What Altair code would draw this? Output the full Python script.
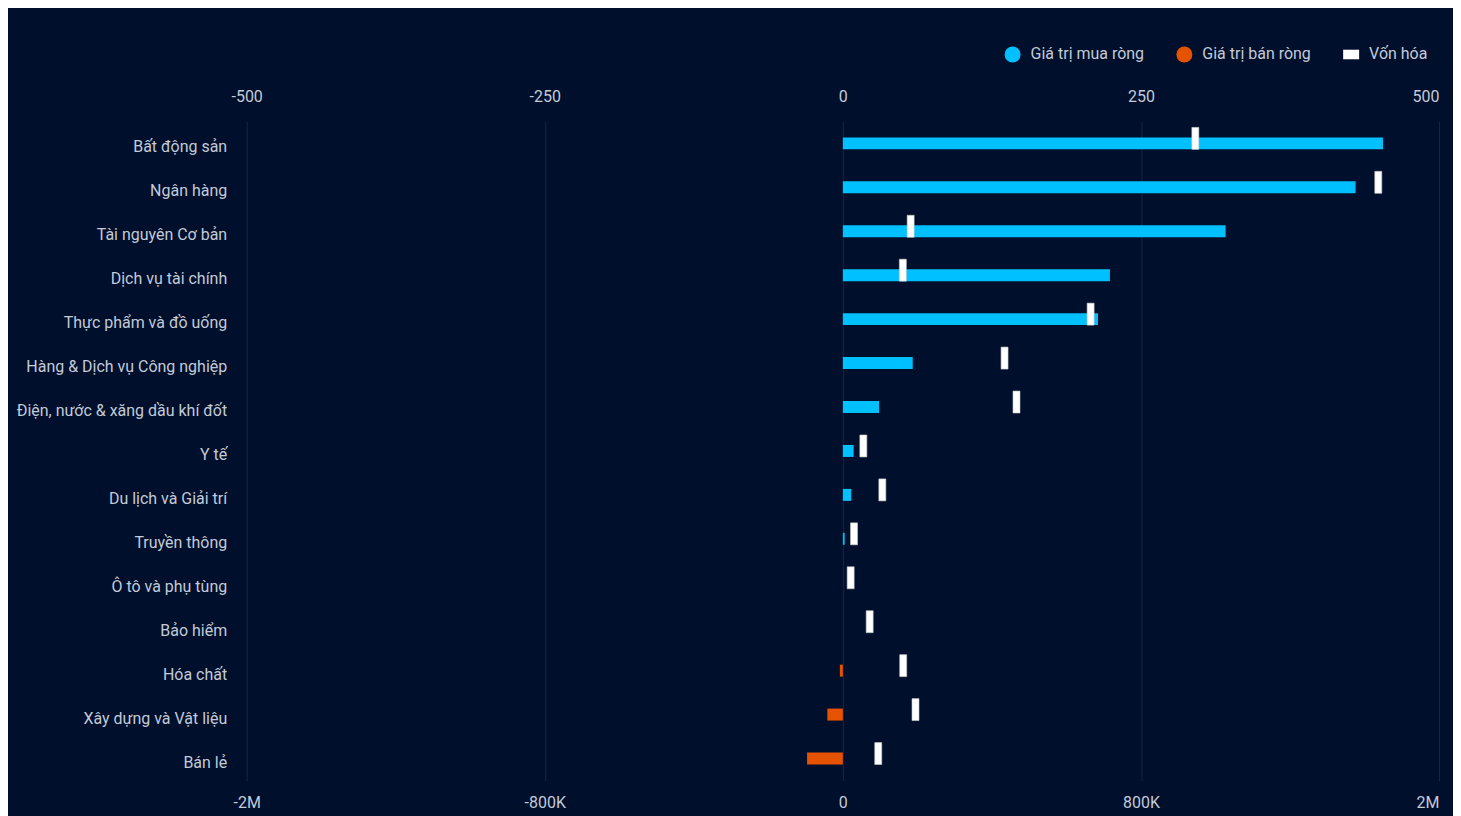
import altair as alt
import pandas as pd

sectors = [
    "Bất động sản", "Ngân hàng", "Tài nguyên Cơ bản", "Dịch vụ tài chính",
    "Thực phẩm và đồ uống", "Hàng & Dịch vụ Công nghiệp",
    "Điện, nước & xăng dầu khí đốt", "Y tế", "Du lịch và Giải trí",
    "Truyền thông", "Ô tô và phụ tùng", "Bảo hiểm", "Hóa chất",
    "Xây dựng và Vật liệu", "Bán lẻ",
]
net_values = [453, 430, 321, 224, 214, 58.6, 30.4, 9, 7, 1.5, 0, 0, -2.5, -13, -30]
market_caps = [946000, 1437000, 182000, 161000, 665000, 434000, 466000,
               55000, 106000, 30000, 21000, 72000, 162000, 195000, 95000]
legend_labels = ["Giá trị mua ròng", "Giá trị bán ròng", "Vốn hóa"]
value_ticks = [-500, -250, 0, 250, 500]
cap_ticks = [-1600000, -800000, 0, 800000, 1600000]
cap_tick_labels = ["-2M", "-800K", "0", "800K", "2M"]

BG = "#000f2b"
CYAN = "#00c0ff"
ORANGE = "#e65300"
WHITE = "#ffffff"
TEXT = "#c3cad8"
GRID = "#16264a"
FONT = "Roboto"
FS = 16

df = pd.DataFrame({"sector": sectors, "value": net_values, "cap": market_caps})
legend_df = pd.DataFrame({"series": pd.Series([], dtype=str)})

cap_expr = "''"
for v, lab in reversed(list(zip(cap_ticks, cap_tick_labels))):
    cap_expr = f"datum.value == {v} ? '{lab}' : ({cap_expr})"

y_enc = alt.Y(
    "sector:N", sort=sectors,
    scale=alt.Scale(paddingInner=0, paddingOuter=0),
    axis=alt.Axis(title=None, domain=False, ticks=False, grid=False,
                  labelPadding=20, labelFontSize=FS, labelColor=TEXT,
                  labelFont=FONT, labelOffset=4, labelLimit=0),
)

bars = alt.Chart(df).mark_bar(size=12, opacity=1).encode(
    x=alt.X("value:Q",
            scale=alt.Scale(domain=[-500, 500], nice=False, zero=False),
            axis=alt.Axis(orient="top", values=value_ticks, title=None,
                          labelExpr="'' + datum.value", domain=False, ticks=False,
                          grid=True, gridColor=GRID, gridWidth=1,
                          labelFlush=False, labelPadding=17,
                          labelFontSize=FS, labelColor=TEXT, labelFont=FONT,
                          labelAlign={"condition": {"test": "datum.value == 500", "value": "right"},
                                      "value": "center"})),
    y=y_enc,
    color=alt.condition("datum.value < 0", alt.value(ORANGE), alt.value(CYAN)),
)

caps = alt.Chart(df).mark_tick(thickness=7, size=22, yOffset=-5, opacity=1,
                               color=WHITE, stroke="#c8c8c8", strokeWidth=0.6).encode(
    x=alt.X("cap:Q",
            scale=alt.Scale(domain=[-1600000, 1600000], nice=False, zero=False),
            axis=alt.Axis(orient="bottom", values=cap_ticks, title=None,
                          labelExpr=cap_expr, domain=False, ticks=False,
                          grid=False, labelFlush=False, labelPadding=14,
                          labelFontSize=FS, labelColor=TEXT, labelFont=FONT,
                          labelAlign={"condition": {"test": "datum.value == 1600000", "value": "right"},
                                      "value": "center"})),
    y=y_enc,
)

legend_layer = alt.Chart(legend_df).mark_point(filled=True, opacity=1).encode(
    color=alt.Color("series:N",
                    scale=alt.Scale(domain=legend_labels, range=[CYAN, ORANGE, WHITE]),
                    legend=alt.Legend(orient="none", legendX=759, legendY=-75,
                                      direction="horizontal", title=None,
                                      labelColor=TEXT, labelFontSize=FS, labelFont=FONT,
                                      symbolSize=256, labelOffset=10, columnPadding=32,
                                      symbolStrokeWidth=0)),
    shape=alt.Shape("series:N",
                    scale=alt.Scale(domain=legend_labels,
                                    range=["circle", "circle", "M-1,-0.6H1V0.6H-1Z"])),
)

chart = alt.layer(bars, caps, legend_layer).resolve_scale(x="independent").properties(
    width=1194, height=660,
    autosize=alt.AutoSizeParams(type="none"),
    padding={"left": 239, "top": 113, "right": 14, "bottom": 36},
    background=BG,
    usermeta={"embedOptions": {
        "defaultStyle": "html, body { background-color: #000f2b !important; overflow: hidden !important; }"
    }},
).configure_view(stroke=None)

chart.save("out.html", embed_options={"renderer": "svg", "actions": False})
